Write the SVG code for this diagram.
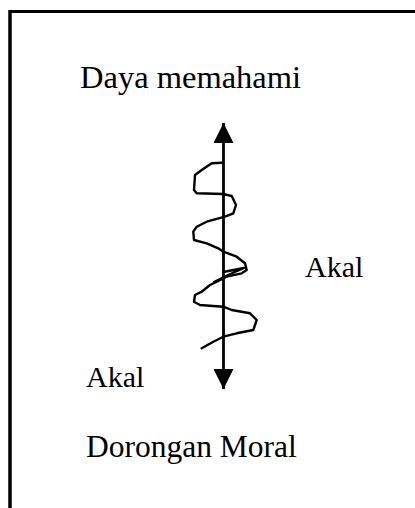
<svg xmlns="http://www.w3.org/2000/svg" width="415" height="508" viewBox="0 0 415 508">
<style>
.lbl{font-family:"Liberation Serif","Times New Roman",serif;font-size:30px;fill:#000}
.frame{fill:none;stroke:#000}
.wave{fill:none;stroke:#000;stroke-width:2.4;stroke-linejoin:round;stroke-linecap:round}
</style>
<defs>
<marker id="ah" viewBox="0 0 20 20" refX="20" refY="10" markerWidth="20" markerHeight="20" markerUnits="userSpaceOnUse" orient="auto-start-reverse">
<path d="M0,0 L20,10 L0,20 Z" fill="#000"/>
</marker>
</defs>
<rect width="415" height="508" fill="#fff"/>
<g id="frame">
<line class="frame" x1="9" y1="11.5" x2="415" y2="11.5" stroke-width="3"/>
<line class="frame" x1="10" y1="10" x2="10" y2="508" stroke-width="3.5"/>
</g>
<g id="connectors">
<line x1="223.5" y1="123" x2="223.5" y2="389" stroke="#000" stroke-width="2.8" marker-start="url(#ah)" marker-end="url(#ah)"/>
<path class="wave" d="M222,162.7 L211.7,163.3 L201.7,170 L195,175 L194,190 L196.7,193.3 L223.3,194 L231.7,196 L236,205 L233.3,213.3 L225,216.7 L206.7,221.7 L196.7,226.7 L193.3,231.7 L194,240 L206.7,243.3 L218.3,248.3 L223.3,251.7 L236.7,256.7 L245,263.3 L246.7,270 L241.7,273.3 L226.7,276.7 L216.7,281.7 L210,285 L201.7,291.7 L195,295 L194,301.7 L200,305 L223.3,306.7 L231.7,310 L250,313.3 L256.7,320 L253.3,330 L236.7,333.3 L223.3,336.7 L213.3,341.7 L201.7,348.3"/>
<path class="wave" d="M223,272 L244,268 L228,275 L214,282"/>
</g>
<g id="daya"><text class="lbl" x="80" y="88" style="font-size:32.5px">Daya memahami</text></g>
<g id="akal-right"><text class="lbl" x="305" y="277">Akal</text></g>
<g id="akal-left"><text class="lbl" x="86" y="387">Akal</text></g>
<g id="dorongan"><text class="lbl" x="86" y="457" style="font-size:31.5px">Dorongan Moral</text></g>
</svg>
